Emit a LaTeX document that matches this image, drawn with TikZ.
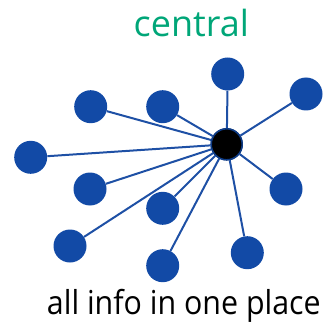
\documentclass[tikz,border=0pt]{standalone}
\usepackage{fontspec}
\setmainfont{Open Sans}
\definecolor{nodeblue}{RGB}{18,74,166}
\definecolor{lineblue}{RGB}{30,80,165}
\definecolor{titlegreen}{RGB}{0,166,120}
\begin{document}
\begin{tikzpicture}[x=1pt,y=-1pt,
  leaf/.style={circle,fill=nodeblue,inner sep=0pt,minimum size=33pt},
  hub/.style={circle,fill=black,draw=nodeblue!80!black,line width=1.5pt,inner sep=0pt,minimum size=31pt},
  spoke/.style={draw=lineblue,line width=2pt}]
\useasboundingbox (0,0) rectangle (323,323);
\node[leaf] (n1) at (227.7,74) {};
\node[leaf] (n2) at (306,94) {};
\node[leaf] (n3) at (90.7,106.7) {};
\node[leaf] (n4) at (162.7,106.7) {};
\node[leaf] (n5) at (30.7,157.3) {};
\node[leaf] (n6) at (90,189) {};
\node[leaf] (n7) at (286,189) {};
\node[leaf] (n8) at (162.7,208.3) {};
\node[leaf] (n9) at (70,246) {};
\node[leaf] (n10) at (247.3,252.7) {};
\node[leaf] (n11) at (162.7,265.7) {};
\node[hub] (c) at (226.7,144.3) {};
\foreach \i in {1,...,11}{\draw[spoke] (c) -- (n\i);}
\node[hub] at (c) {};
\node[text=titlegreen,font=\fontsize{36}{40}\selectfont,inner sep=0pt,anchor=base] (t) at (191.3,36.7) {central};
\node[text=black,font=\fontsize{33}{38}\selectfont,inner sep=0pt,anchor=base,xscale=0.92] (b) at (183.8,314.5) {all info in one place};
\end{tikzpicture}
\end{document}
